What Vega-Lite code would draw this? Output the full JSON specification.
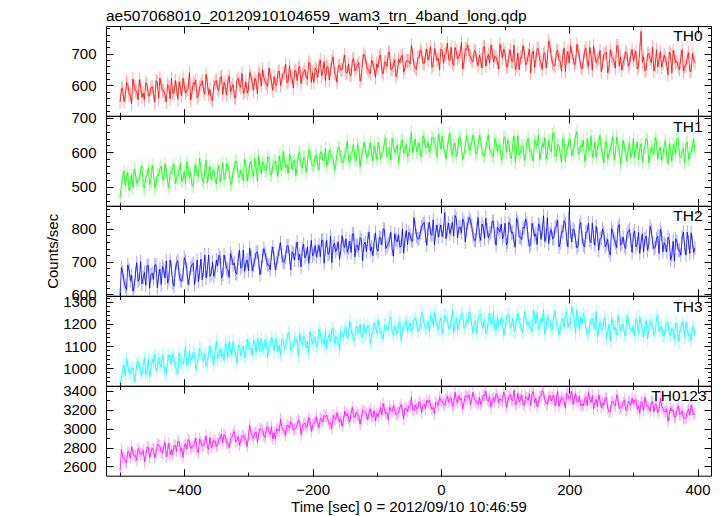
{
"$schema": "https://vega.github.io/schema/vega-lite/v6.json",
"background": "#ffffff",
"padding": {"left": 45, "top": 8, "right": 12, "bottom": 2},
"spacing": 0,
"bounds": "flush",
"title": {"text": "ae507068010_20120910104659_wam3_trn_4band_long.qdp", "anchor": "start", "frame": "group", "fontSize": 15.5, "fontWeight": "normal", "font": "Liberation Sans", "color": "#000000", "baseline": "alphabetic", "offset": -11},
"config": {
  "font": "Liberation Sans",
  "view": {"stroke": "#000000", "strokeWidth": 1},
  "axis": {"domain": false, "grid": false, "minExtent": 0, "labelFont": "Liberation Sans", "labelFontSize": 15, "labelColor": "#000000", "labelFlush": false, "labelOverlap": false, "format": "d", "tickColor": "#000000", "tickWidth": 1, "titleFont": "Liberation Sans", "titleFontSize": 15, "titleFontWeight": "normal", "titleColor": "#000000"}
},
"datasets": {"lc": [
{"t":-500,"a":548,"b":470,"c":598,"d":935,"e":2560},
{"t":-496,"a":590,"b":528,"c":668,"d":990,"e":2700},
{"t":-492,"a":566,"b":505,"c":625,"d":962,"e":2655},
{"t":-488,"a":603,"b":541,"c":690,"d":1015,"e":2760},
{"t":-484,"a":571,"b":512,"c":642,"d":978,"e":2690},
{"t":-480,"a":620,"b":498,"c":610,"d":1002,"e":2745},
{"t":-476,"a":584,"b":535,"c":665,"d":958,"e":2712},
{"t":-472,"a":555,"b":520,"c":640,"d":1030,"e":2790},
{"t":-468,"a":598,"b":548,"c":700,"d":985,"e":2730},
{"t":-464,"a":576,"b":502,"c":652,"d":1012,"e":2770},
{"t":-460,"a":609,"b":530,"c":628,"d":970,"e":2705},
{"t":-456,"a":566,"b":556,"c":688,"d":1040,"e":2800},
{"t":-452,"a":592,"b":515,"c":660,"d":995,"e":2748},
{"t":-448,"a":578,"b":542,"c":646,"d":1022,"e":2780},
{"t":-444,"a":615,"b":509,"c":690,"d":988,"e":2735},
{"t":-440,"a":560,"b":533,"c":655,"d":1048,"e":2825},
{"t":-436,"a":601,"b":561,"c":630,"d":1005,"e":2752},
{"t":-432,"a":583,"b":520,"c":676,"d":1030,"e":2810},
{"t":-428,"a":548,"b":545,"c":702,"d":975,"e":2700},
{"t":-424,"a":596,"b":498,"c":648,"d":1060,"e":2845},
{"t":-420,"a":622,"b":540,"c":680,"d":1018,"e":2775},
{"t":-416,"a":575,"b":566,"c":625,"d":1042,"e":2822},
{"t":-412,"a":590,"b":527,"c":695,"d":996,"e":2760},
{"t":-408,"a":612,"b":550,"c":660,"d":1070,"e":2868},
{"t":-404,"a":568,"b":515,"c":640,"d":1025,"e":2790},
{"t":-400,"a":599,"b":545,"c":712,"d":1050,"e":2815},
{"t":-396,"a":585,"b":572,"c":675,"d":1012,"e":2785},
{"t":-392,"a":640,"b":528,"c":650,"d":1078,"e":2870},
{"t":-388,"a":578,"b":505,"c":690,"d":1040,"e":2805},
{"t":-384,"a":603,"b":552,"c":630,"d":1063,"e":2842},
{"t":-380,"a":562,"b":535,"c":705,"d":1010,"e":2770},
{"t":-376,"a":596,"b":583,"c":668,"d":1090,"e":2890},
{"t":-372,"a":615,"b":520,"c":645,"d":1045,"e":2815},
{"t":-368,"a":574,"b":547,"c":720,"d":1068,"e":2855},
{"t":-364,"a":608,"b":512,"c":676,"d":1030,"e":2800},
{"t":-360,"a":588,"b":560,"c":655,"d":1100,"e":2905},
{"t":-356,"a":552,"b":538,"c":698,"d":1055,"e":2838},
{"t":-352,"a":610,"b":525,"c":670,"d":1075,"e":2868},
{"t":-348,"a":590,"b":548,"c":688,"d":1042,"e":2830},
{"t":-344,"a":625,"b":515,"c":712,"d":1088,"e":2895},
{"t":-340,"a":572,"b":570,"c":660,"d":1065,"e":2850},
{"t":-336,"a":598,"b":532,"c":700,"d":1110,"e":2920},
{"t":-332,"a":615,"b":555,"c":675,"d":1048,"e":2845},
{"t":-328,"a":580,"b":508,"c":725,"d":1082,"e":2888},
{"t":-324,"a":603,"b":545,"c":690,"d":1120,"e":2940},
{"t":-320,"a":560,"b":575,"c":665,"d":1070,"e":2862},
{"t":-316,"a":622,"b":530,"c":708,"d":1095,"e":2915},
{"t":-312,"a":594,"b":548,"c":680,"d":1058,"e":2870},
{"t":-308,"a":575,"b":518,"c":735,"d":1100,"e":2930},
{"t":-304,"a":612,"b":560,"c":695,"d":1076,"e":2890},
{"t":-300,"a":588,"b":540,"c":672,"d":1112,"e":2925},
{"t":-296,"a":630,"b":575,"c":715,"d":1090,"e":2950},
{"t":-292,"a":585,"b":530,"c":690,"d":1125,"e":2895},
{"t":-288,"a":612,"b":558,"c":728,"d":1070,"e":2962},
{"t":-284,"a":640,"b":590,"c":700,"d":1108,"e":2940},
{"t":-280,"a":598,"b":540,"c":682,"d":1135,"e":2990},
{"t":-276,"a":625,"b":566,"c":740,"d":1085,"e":2925},
{"t":-272,"a":605,"b":548,"c":705,"d":1115,"e":3005},
{"t":-268,"a":655,"b":580,"c":690,"d":1095,"e":2968},
{"t":-264,"a":612,"b":535,"c":725,"d":1140,"e":3020},
{"t":-260,"a":628,"b":572,"c":710,"d":1078,"e":2955},
{"t":-256,"a":600,"b":555,"c":695,"d":1118,"e":3000},
{"t":-252,"a":645,"b":590,"c":738,"d":1102,"e":2975},
{"t":-248,"a":618,"b":548,"c":720,"d":1130,"e":3010},
{"t":-244,"a":640,"b":580,"c":700,"d":1090,"e":2972},
{"t":-240,"a":608,"b":565,"c":748,"d":1125,"e":3035},
{"t":-236,"a":662,"b":595,"c":715,"d":1150,"e":3005},
{"t":-232,"a":625,"b":550,"c":730,"d":1098,"e":3050},
{"t":-228,"a":645,"b":578,"c":705,"d":1132,"e":2998},
{"t":-224,"a":615,"b":562,"c":760,"d":1115,"e":3042},
{"t":-220,"a":660,"b":600,"c":722,"d":1160,"e":3070},
{"t":-216,"a":632,"b":555,"c":738,"d":1105,"e":3015},
{"t":-212,"a":650,"b":585,"c":712,"d":1138,"e":3058},
{"t":-208,"a":620,"b":570,"c":745,"d":1120,"e":3030},
{"t":-204,"a":670,"b":602,"c":728,"d":1165,"e":3085},
{"t":-200,"a":640,"b":560,"c":718,"d":1112,"e":3040},
{"t":-196,"a":655,"b":590,"c":750,"d":1140,"e":3075},
{"t":-192,"a":625,"b":565,"c":732,"d":1105,"e":3050},
{"t":-188,"a":680,"b":600,"c":715,"d":1158,"e":3110},
{"t":-184,"a":642,"b":578,"c":765,"d":1128,"e":3068},
{"t":-180,"a":615,"b":612,"c":740,"d":1170,"e":3125},
{"t":-176,"a":660,"b":570,"c":722,"d":1135,"e":3090},
{"t":-172,"a":648,"b":595,"c":778,"d":1120,"e":3060},
{"t":-168,"a":690,"b":582,"c":745,"d":1180,"e":3140},
{"t":-164,"a":635,"b":560,"c":730,"d":1145,"e":3095},
{"t":-160,"a":662,"b":615,"c":760,"d":1125,"e":3118},
{"t":-156,"a":650,"b":588,"c":735,"d":1165,"e":3105},
{"t":-152,"a":675,"b":572,"c":752,"d":1140,"e":3080},
{"t":-148,"a":640,"b":605,"c":770,"d":1185,"e":3135},
{"t":-144,"a":668,"b":580,"c":742,"d":1148,"e":3110},
{"t":-140,"a":632,"b":598,"c":728,"d":1175,"e":3160},
{"t":-136,"a":685,"b":622,"c":785,"d":1130,"e":3125},
{"t":-132,"a":655,"b":575,"c":750,"d":1190,"e":3170},
{"t":-128,"a":672,"b":610,"c":735,"d":1158,"e":3140},
{"t":-124,"a":628,"b":590,"c":768,"d":1142,"e":3115},
{"t":-120,"a":698,"b":630,"c":752,"d":1200,"e":3185},
{"t":-116,"a":660,"b":585,"c":730,"d":1165,"e":3150},
{"t":-112,"a":645,"b":608,"c":790,"d":1178,"e":3172},
{"t":-108,"a":680,"b":595,"c":745,"d":1145,"e":3130},
{"t":-104,"a":652,"b":618,"c":762,"d":1205,"e":3190},
{"t":-100,"a":668,"b":580,"c":740,"d":1160,"e":3158},
{"t":-96,"a":690,"b":612,"c":775,"d":1185,"e":3175},
{"t":-92,"a":645,"b":598,"c":752,"d":1150,"e":3145},
{"t":-88,"a":672,"b":632,"c":798,"d":1195,"e":3210},
{"t":-84,"a":660,"b":588,"c":748,"d":1170,"e":3168},
{"t":-80,"a":705,"b":615,"c":765,"d":1220,"e":3230},
{"t":-76,"a":652,"b":640,"c":738,"d":1162,"e":3180},
{"t":-72,"a":680,"b":600,"c":785,"d":1190,"e":3205},
{"t":-68,"a":640,"b":622,"c":760,"d":1155,"e":3160},
{"t":-64,"a":672,"b":595,"c":745,"d":1210,"e":3225},
{"t":-60,"a":695,"b":635,"c":800,"d":1178,"e":3195},
{"t":-56,"a":655,"b":608,"c":768,"d":1198,"e":3215},
{"t":-52,"a":678,"b":588,"c":752,"d":1165,"e":3180},
{"t":-48,"a":668,"b":625,"c":780,"d":1205,"e":3230},
{"t":-44,"a":700,"b":600,"c":762,"d":1180,"e":3205},
{"t":-40,"a":655,"b":638,"c":805,"d":1225,"e":3250},
{"t":-36,"a":688,"b":612,"c":770,"d":1168,"e":3215},
{"t":-32,"a":712,"b":595,"c":790,"d":1200,"e":3262},
{"t":-28,"a":670,"b":648,"c":815,"d":1235,"e":3240},
{"t":-24,"a":695,"b":615,"c":778,"d":1185,"e":3210},
{"t":-20,"a":680,"b":630,"c":800,"d":1210,"e":3275},
{"t":-16,"a":722,"b":605,"c":785,"d":1240,"e":3248},
{"t":-12,"a":665,"b":640,"c":828,"d":1195,"e":3225},
{"t":-8,"a":698,"b":618,"c":792,"d":1218,"e":3280},
{"t":-4,"a":685,"b":652,"c":775,"d":1175,"e":3242},
{"t":0,"a":715,"b":610,"c":812,"d":1228,"e":3295},
{"t":4,"a":670,"b":615,"c":795,"d":1190,"e":3262},
{"t":8,"a":700,"b":580,"c":770,"d":1235,"e":3310},
{"t":12,"a":685,"b":638,"c":818,"d":1178,"e":3280},
{"t":16,"a":720,"b":605,"c":800,"d":1210,"e":3325},
{"t":20,"a":663,"b":620,"c":778,"d":1160,"e":3255},
{"t":24,"a":707,"b":588,"c":832,"d":1228,"e":3300},
{"t":28,"a":690,"b":642,"c":805,"d":1195,"e":3345},
{"t":32,"a":735,"b":610,"c":788,"d":1245,"e":3318},
{"t":36,"a":675,"b":595,"c":820,"d":1180,"e":3275},
{"t":40,"a":713,"b":648,"c":798,"d":1218,"e":3340},
{"t":44,"a":695,"b":605,"c":835,"d":1255,"e":3360},
{"t":48,"a":680,"b":630,"c":812,"d":1200,"e":3305},
{"t":52,"a":710,"b":632,"c":765,"d":1205,"e":3305},
{"t":56,"a":678,"b":595,"c":800,"d":1155,"e":3275},
{"t":60,"a":695,"b":650,"c":780,"d":1238,"e":3330},
{"t":64,"a":655,"b":605,"c":815,"d":1185,"e":3290},
{"t":68,"a":722,"b":588,"c":770,"d":1220,"e":3345},
{"t":72,"a":685,"b":635,"c":797,"d":1170,"e":3300},
{"t":76,"a":670,"b":610,"c":785,"d":1250,"e":3335},
{"t":80,"a":708,"b":592,"c":823,"d":1200,"e":3310},
{"t":84,"a":692,"b":640,"c":775,"d":1175,"e":3280},
{"t":88,"a":675,"b":605,"c":805,"d":1230,"e":3350},
{"t":92,"a":730,"b":622,"c":790,"d":1195,"e":3315},
{"t":96,"a":688,"b":585,"c":770,"d":1218,"e":3295},
{"t":100,"a":702,"b":645,"c":817,"d":1180,"e":3340},
{"t":104,"a":660,"b":635,"c":760,"d":1240,"e":3280},
{"t":108,"a":712,"b":588,"c":812,"d":1180,"e":3360},
{"t":112,"a":675,"b":622,"c":790,"d":1225,"e":3295},
{"t":116,"a":650,"b":570,"c":745,"d":1170,"e":3250},
{"t":120,"a":702,"b":648,"c":820,"d":1250,"e":3375},
{"t":124,"a":688,"b":600,"c":775,"d":1195,"e":3310},
{"t":128,"a":725,"b":618,"c":805,"d":1160,"e":3262},
{"t":132,"a":665,"b":585,"c":830,"d":1232,"e":3340},
{"t":136,"a":695,"b":640,"c":770,"d":1210,"e":3300},
{"t":140,"a":640,"b":605,"c":752,"d":1185,"e":3245},
{"t":144,"a":708,"b":575,"c":800,"d":1262,"e":3395},
{"t":148,"a":680,"b":628,"c":785,"d":1200,"e":3320},
{"t":152,"a":715,"b":650,"c":815,"d":1175,"e":3280},
{"t":156,"a":672,"b":598,"c":768,"d":1228,"e":3345},
{"t":160,"a":698,"b":615,"c":840,"d":1265,"e":3380},
{"t":164,"a":655,"b":580,"c":780,"d":1190,"e":3270},
{"t":168,"a":740,"b":635,"c":755,"d":1215,"e":3325},
{"t":172,"a":690,"b":602,"c":798,"d":1170,"e":3290},
{"t":176,"a":662,"b":658,"c":772,"d":1240,"e":3355},
{"t":180,"a":705,"b":590,"c":810,"d":1198,"e":3305},
{"t":184,"a":680,"b":620,"c":745,"d":1150,"e":3235},
{"t":188,"a":645,"b":570,"c":792,"d":1222,"e":3330},
{"t":192,"a":718,"b":632,"c":825,"d":1185,"e":3295},
{"t":196,"a":688,"b":605,"c":770,"d":1255,"e":3370},
{"t":200,"a":670,"b":640,"c":850,"d":1205,"e":3310},
{"t":204,"a":702,"b":590,"c":760,"d":1280,"e":3395},
{"t":208,"a":665,"b":625,"c":795,"d":1215,"e":3320},
{"t":212,"a":730,"b":660,"c":742,"d":1265,"e":3285},
{"t":216,"a":690,"b":598,"c":810,"d":1170,"e":3340},
{"t":220,"a":652,"b":615,"c":775,"d":1200,"e":3260},
{"t":224,"a":708,"b":575,"c":745,"d":1235,"e":3305},
{"t":228,"a":675,"b":640,"c":790,"d":1150,"e":3245},
{"t":232,"a":720,"b":605,"c":765,"d":1195,"e":3312},
{"t":236,"a":648,"b":585,"c":818,"d":1225,"e":3350},
{"t":240,"a":695,"b":630,"c":750,"d":1178,"e":3275},
{"t":244,"a":682,"b":612,"c":782,"d":1140,"e":3230},
{"t":248,"a":710,"b":650,"c":770,"d":1210,"e":3300},
{"t":252,"a":668,"b":595,"c":800,"d":1175,"e":3270},
{"t":256,"a":700,"b":628,"c":745,"d":1230,"e":3320},
{"t":260,"a":640,"b":580,"c":768,"d":1160,"e":3215},
{"t":264,"a":712,"b":610,"c":720,"d":1122,"e":3180},
{"t":268,"a":685,"b":645,"c":790,"d":1205,"e":3285},
{"t":272,"a":655,"b":595,"c":758,"d":1185,"e":3240},
{"t":276,"a":725,"b":620,"c":805,"d":1240,"e":3310},
{"t":280,"a":690,"b":565,"c":750,"d":1168,"e":3225},
{"t":284,"a":670,"b":635,"c":775,"d":1200,"e":3270},
{"t":288,"a":705,"b":600,"c":740,"d":1145,"e":3200},
{"t":292,"a":660,"b":615,"c":792,"d":1222,"e":3290},
{"t":296,"a":695,"b":585,"c":765,"d":1180,"e":3245},
{"t":300,"a":678,"b":640,"c":782,"d":1195,"e":3262},
{"t":304,"a":708,"b":610,"c":745,"d":1225,"e":3305},
{"t":308,"a":660,"b":580,"c":790,"d":1160,"e":3240},
{"t":312,"a":770,"b":625,"c":760,"d":1200,"e":3285},
{"t":316,"a":690,"b":598,"c":730,"d":1140,"e":3190},
{"t":320,"a":650,"b":640,"c":778,"d":1215,"e":3260},
{"t":324,"a":700,"b":570,"c":752,"d":1170,"e":3225},
{"t":328,"a":672,"b":615,"c":795,"d":1195,"e":3280},
{"t":332,"a":645,"b":595,"c":740,"d":1150,"e":3175},
{"t":336,"a":712,"b":632,"c":770,"d":1228,"e":3250},
{"t":340,"a":680,"b":605,"c":725,"d":1165,"e":3200},
{"t":344,"a":658,"b":578,"c":785,"d":1190,"e":3235},
{"t":348,"a":695,"b":620,"c":758,"d":1145,"e":3180},
{"t":352,"a":668,"b":590,"c":730,"d":1200,"e":3210},
{"t":356,"a":705,"b":625,"c":765,"d":1150,"e":3145},
{"t":360,"a":640,"b":575,"c":720,"d":1180,"e":3185},
{"t":364,"a":690,"b":612,"c":702,"d":1130,"e":3120},
{"t":368,"a":675,"b":640,"c":760,"d":1195,"e":3200},
{"t":372,"a":650,"b":588,"c":735,"d":1160,"e":3150},
{"t":376,"a":712,"b":605,"c":775,"d":1210,"e":3190},
{"t":380,"a":660,"b":570,"c":745,"d":1140,"e":3110},
{"t":384,"a":688,"b":630,"c":790,"d":1175,"e":3175},
{"t":388,"a":645,"b":598,"c":725,"d":1155,"e":3140},
{"t":392,"a":700,"b":615,"c":760,"d":1190,"e":3195},
{"t":396,"a":672,"b":602,"c":742,"d":1150,"e":3160},
{"t":-498,"a":590,"b":502,"c":682,"d":952,"e":2780},
{"t":-494,"a":550,"b":547,"c":642,"d":1014,"e":2685},
{"t":-490,"a":609,"b":527,"c":614,"d":1040,"e":2640},
{"t":-486,"a":572,"b":489,"c":674,"d":977,"e":2745},
{"t":-482,"a":543,"b":536,"c":658,"d":997,"e":2810},
{"t":-478,"a":596,"b":552,"c":624,"d":940,"e":2710},
{"t":-474,"a":582,"b":510,"c":697,"d":1022,"e":2665},
{"t":-470,"a":618,"b":520,"c":647,"d":1004,"e":2760},
{"t":-466,"a":563,"b":560,"c":632,"d":967,"e":2735},
{"t":-462,"a":556,"b":497,"c":667,"d":1047,"e":2650},
{"t":-458,"a":604,"b":532,"c":688,"d":984,"e":2805},
{"t":-454,"a":569,"b":507,"c":619,"d":957,"e":2695},
{"t":-450,"a":596,"b":563,"c":665,"d":1040,"e":2790},
{"t":-446,"a":547,"b":497,"c":690,"d":1062,"e":2690},
{"t":-442,"a":610,"b":537,"c":620,"d":1002,"e":2835},
{"t":-438,"a":623,"b":553,"c":677,"d":1017,"e":2815},
{"t":-434,"a":585,"b":527,"c":685,"d":1057,"e":2740},
{"t":-430,"a":570,"b":568,"c":650,"d":974,"e":2855},
{"t":-426,"a":603,"b":515,"c":635,"d":1032,"e":2770},
{"t":-422,"a":558,"b":541,"c":705,"d":1047,"e":2725},
{"t":-418,"a":576,"b":555,"c":635,"d":1062,"e":2725},
{"t":-414,"a":616,"b":510,"c":675,"d":1000,"e":2820},
{"t":-410,"a":557,"b":530,"c":703,"d":974,"e":2865},
{"t":-406,"a":594,"b":568,"c":643,"d":1037,"e":2760},
{"t":-402,"a":623,"b":521,"c":659,"d":1017,"e":2695},
{"t":-398,"a":576,"b":510,"c":703,"d":1100,"e":2840},
{"t":-394,"a":590,"b":552,"c":630,"d":1018,"e":2885},
{"t":-390,"a":554,"b":542,"c":680,"d":1036,"e":2790},
{"t":-386,"a":609,"b":502,"c":695,"d":1073,"e":2815},
{"t":-382,"a":616,"b":565,"c":660,"d":993,"e":2900},
{"t":-378,"a":568,"b":530,"c":639,"d":1056,"e":2745},
{"t":-374,"a":603,"b":555,"c":708,"d":1083,"e":2855},
{"t":-370,"a":586,"b":512,"c":675,"d":1030,"e":2825},
{"t":-366,"a":635,"b":578,"c":650,"d":1008,"e":2925},
{"t":-362,"a":572,"b":538,"c":720,"d":1068,"e":2780},
{"t":-358,"a":559,"b":522,"c":663,"d":1053,"e":2800},
{"t":-354,"a":597,"b":548,"c":655,"d":1013,"e":2875},
{"t":-350,"a":616,"b":509,"c":705,"d":1123,"e":2810},
{"t":-346,"a":583,"b":562,"c":720,"d":1065,"e":2895},
{"t":-342,"a":628,"b":536,"c":650,"d":1050,"e":2940},
{"t":-338,"a":610,"b":522,"c":720,"d":1035,"e":2940},
{"t":-334,"a":570,"b":567,"c":680,"d":1097,"e":2845},
{"t":-330,"a":629,"b":547,"c":652,"d":1123,"e":2800},
{"t":-326,"a":592,"b":509,"c":712,"d":1060,"e":2905},
{"t":-322,"a":563,"b":556,"c":696,"d":1080,"e":2970},
{"t":-318,"a":616,"b":572,"c":662,"d":1023,"e":2870},
{"t":-314,"a":602,"b":530,"c":735,"d":1105,"e":2825},
{"t":-310,"a":638,"b":540,"c":685,"d":1087,"e":2920},
{"t":-306,"a":583,"b":580,"c":670,"d":1050,"e":2895},
{"t":-302,"a":576,"b":517,"c":705,"d":1130,"e":2810},
{"t":-298,"a":641,"b":565,"c":741,"d":1087,"e":3035},
{"t":-294,"a":606,"b":540,"c":672,"d":1060,"e":2925},
{"t":-290,"a":623,"b":583,"c":705,"d":1113,"e":2955},
{"t":-286,"a":574,"b":517,"c":730,"d":1135,"e":2855},
{"t":-282,"a":637,"b":557,"c":660,"d":1075,"e":3000},
{"t":-278,"a":650,"b":573,"c":717,"d":1090,"e":2980},
{"t":-274,"a":612,"b":547,"c":725,"d":1130,"e":2905},
{"t":-270,"a":597,"b":588,"c":690,"d":1047,"e":3020},
{"t":-266,"a":630,"b":535,"c":675,"d":1105,"e":2935},
{"t":-262,"a":585,"b":561,"c":745,"d":1120,"e":2890},
{"t":-258,"a":603,"b":575,"c":675,"d":1135,"e":2890},
{"t":-254,"a":643,"b":530,"c":715,"d":1073,"e":2985},
{"t":-250,"a":601,"b":565,"c":758,"d":1062,"e":3100},
{"t":-246,"a":638,"b":603,"c":698,"d":1125,"e":2995},
{"t":-242,"a":667,"b":556,"c":714,"d":1105,"e":2930},
{"t":-238,"a":614,"b":540,"c":748,"d":1162,"e":3030},
{"t":-234,"a":628,"b":582,"c":675,"d":1080,"e":3075},
{"t":-230,"a":592,"b":572,"c":725,"d":1098,"e":2980},
{"t":-226,"a":647,"b":532,"c":740,"d":1135,"e":3005},
{"t":-222,"a":654,"b":595,"c":705,"d":1055,"e":3090},
{"t":-218,"a":606,"b":560,"c":684,"d":1118,"e":2935},
{"t":-214,"a":641,"b":585,"c":753,"d":1145,"e":3045},
{"t":-210,"a":624,"b":542,"c":720,"d":1092,"e":3015},
{"t":-206,"a":673,"b":608,"c":695,"d":1070,"e":3115},
{"t":-202,"a":610,"b":568,"c":765,"d":1130,"e":2970},
{"t":-198,"a":610,"b":564,"c":723,"d":1135,"e":3050},
{"t":-194,"a":648,"b":590,"c":715,"d":1095,"e":3125},
{"t":-190,"a":663,"b":549,"c":750,"d":1178,"e":3010},
{"t":-186,"a":630,"b":602,"c":765,"d":1120,"e":3095},
{"t":-182,"a":675,"b":576,"c":695,"d":1105,"e":3140},
{"t":-178,"a":657,"b":562,"c":765,"d":1090,"e":3140},
{"t":-174,"a":617,"b":607,"c":725,"d":1152,"e":3045},
{"t":-170,"a":676,"b":587,"c":697,"d":1178,"e":3000},
{"t":-166,"a":639,"b":549,"c":757,"d":1115,"e":3105},
{"t":-162,"a":610,"b":596,"c":741,"d":1135,"e":3170},
{"t":-158,"a":663,"b":612,"c":707,"d":1078,"e":3070},
{"t":-154,"a":649,"b":570,"c":780,"d":1160,"e":3025},
{"t":-150,"a":695,"b":593,"c":743,"d":1172,"e":3180},
{"t":-146,"a":640,"b":633,"c":728,"d":1135,"e":3155},
{"t":-142,"a":633,"b":570,"c":763,"d":1215,"e":3070},
{"t":-138,"a":681,"b":605,"c":784,"d":1152,"e":3225},
{"t":-134,"a":646,"b":580,"c":715,"d":1125,"e":3115},
{"t":-130,"a":663,"b":623,"c":748,"d":1178,"e":3145},
{"t":-126,"a":614,"b":557,"c":773,"d":1200,"e":3045},
{"t":-122,"a":677,"b":597,"c":703,"d":1140,"e":3190},
{"t":-118,"a":690,"b":613,"c":760,"d":1155,"e":3170},
{"t":-114,"a":652,"b":587,"c":768,"d":1195,"e":3095},
{"t":-110,"a":637,"b":628,"c":733,"d":1112,"e":3210},
{"t":-106,"a":670,"b":575,"c":718,"d":1170,"e":3125},
{"t":-102,"a":625,"b":601,"c":788,"d":1185,"e":3080},
{"t":-98,"a":656,"b":628,"c":732,"d":1220,"e":3125},
{"t":-94,"a":696,"b":583,"c":772,"d":1158,"e":3220},
{"t":-90,"a":637,"b":603,"c":800,"d":1132,"e":3265},
{"t":-86,"a":674,"b":641,"c":740,"d":1195,"e":3160},
{"t":-82,"a":703,"b":594,"c":756,"d":1175,"e":3095},
{"t":-78,"a":650,"b":578,"c":790,"d":1232,"e":3195},
{"t":-74,"a":664,"b":620,"c":717,"d":1150,"e":3240},
{"t":-70,"a":628,"b":610,"c":767,"d":1168,"e":3145},
{"t":-66,"a":683,"b":570,"c":782,"d":1205,"e":3170},
{"t":-62,"a":690,"b":633,"c":747,"d":1125,"e":3255},
{"t":-58,"a":642,"b":598,"c":726,"d":1188,"e":3100},
{"t":-54,"a":677,"b":623,"c":795,"d":1215,"e":3210},
{"t":-50,"a":677,"b":592,"c":790,"d":1187,"e":3235},
{"t":-46,"a":726,"b":658,"c":765,"d":1165,"e":3335},
{"t":-42,"a":663,"b":618,"c":835,"d":1225,"e":3190},
{"t":-38,"a":650,"b":602,"c":778,"d":1210,"e":3210},
{"t":-34,"a":688,"b":628,"c":770,"d":1170,"e":3285},
{"t":-30,"a":703,"b":587,"c":805,"d":1253,"e":3170},
{"t":-26,"a":670,"b":640,"c":820,"d":1195,"e":3255},
{"t":-22,"a":715,"b":614,"c":750,"d":1180,"e":3300},
{"t":-18,"a":697,"b":600,"c":820,"d":1165,"e":3300},
{"t":-14,"a":657,"b":645,"c":780,"d":1227,"e":3205},
{"t":-10,"a":716,"b":625,"c":752,"d":1253,"e":3160},
{"t":-6,"a":679,"b":587,"c":812,"d":1190,"e":3265},
{"t":-2,"a":650,"b":634,"c":796,"d":1210,"e":3330},
{"t":2,"a":711,"b":647,"c":777,"d":1156,"e":3290},
{"t":6,"a":697,"b":605,"c":850,"d":1238,"e":3245},
{"t":10,"a":733,"b":615,"c":800,"d":1220,"e":3340},
{"t":14,"a":678,"b":655,"c":785,"d":1183,"e":3315},
{"t":18,"a":671,"b":592,"c":820,"d":1263,"e":3230},
{"t":22,"a":719,"b":627,"c":841,"d":1200,"e":3385},
{"t":26,"a":684,"b":602,"c":772,"d":1173,"e":3275},
{"t":30,"a":701,"b":645,"c":805,"d":1226,"e":3305},
{"t":34,"a":652,"b":579,"c":830,"d":1248,"e":3205},
{"t":38,"a":715,"b":619,"c":760,"d":1188,"e":3350},
{"t":42,"a":728,"b":635,"c":817,"d":1203,"e":3330},
{"t":46,"a":690,"b":609,"c":825,"d":1243,"e":3255},
{"t":50,"a":674,"b":650,"c":780,"d":1157,"e":3385},
{"t":54,"a":707,"b":597,"c":765,"d":1215,"e":3300},
{"t":58,"a":662,"b":623,"c":835,"d":1230,"e":3255},
{"t":62,"a":680,"b":637,"c":765,"d":1245,"e":3255},
{"t":66,"a":720,"b":592,"c":805,"d":1183,"e":3350},
{"t":70,"a":661,"b":612,"c":833,"d":1157,"e":3395},
{"t":74,"a":698,"b":650,"c":773,"d":1220,"e":3290},
{"t":78,"a":727,"b":603,"c":789,"d":1200,"e":3225},
{"t":82,"a":674,"b":587,"c":823,"d":1257,"e":3325},
{"t":86,"a":688,"b":629,"c":750,"d":1175,"e":3370},
{"t":90,"a":652,"b":619,"c":800,"d":1193,"e":3275},
{"t":94,"a":707,"b":579,"c":815,"d":1230,"e":3300},
{"t":98,"a":714,"b":642,"c":780,"d":1150,"e":3385},
{"t":102,"a":659,"b":600,"c":751,"d":1215,"e":3226},
{"t":106,"a":694,"b":625,"c":820,"d":1242,"e":3336},
{"t":110,"a":677,"b":582,"c":787,"d":1189,"e":3306},
{"t":114,"a":726,"b":648,"c":762,"d":1167,"e":3406},
{"t":118,"a":663,"b":608,"c":832,"d":1227,"e":3261},
{"t":122,"a":650,"b":592,"c":775,"d":1212,"e":3281},
{"t":126,"a":688,"b":618,"c":767,"d":1172,"e":3356},
{"t":130,"a":703,"b":577,"c":802,"d":1255,"e":3241},
{"t":134,"a":670,"b":630,"c":817,"d":1197,"e":3326},
{"t":138,"a":715,"b":604,"c":747,"d":1182,"e":3371},
{"t":142,"a":697,"b":590,"c":817,"d":1167,"e":3371},
{"t":146,"a":657,"b":635,"c":777,"d":1229,"e":3276},
{"t":150,"a":716,"b":617,"c":752,"d":1253,"e":3230},
{"t":154,"a":679,"b":579,"c":812,"d":1190,"e":3335},
{"t":158,"a":650,"b":626,"c":796,"d":1210,"e":3400},
{"t":162,"a":703,"b":642,"c":762,"d":1153,"e":3300},
{"t":166,"a":689,"b":600,"c":835,"d":1235,"e":3255},
{"t":170,"a":725,"b":610,"c":785,"d":1217,"e":3350},
{"t":174,"a":670,"b":650,"c":770,"d":1180,"e":3325},
{"t":178,"a":663,"b":587,"c":805,"d":1260,"e":3240},
{"t":182,"a":711,"b":622,"c":826,"d":1197,"e":3395},
{"t":186,"a":676,"b":597,"c":757,"d":1170,"e":3285},
{"t":190,"a":693,"b":640,"c":790,"d":1223,"e":3315},
{"t":194,"a":644,"b":574,"c":815,"d":1245,"e":3215},
{"t":198,"a":707,"b":614,"c":745,"d":1185,"e":3360},
{"t":202,"a":725,"b":633,"c":792,"d":1200,"e":3330},
{"t":206,"a":687,"b":607,"c":800,"d":1240,"e":3255},
{"t":210,"a":672,"b":648,"c":765,"d":1157,"e":3370},
{"t":214,"a":705,"b":595,"c":750,"d":1215,"e":3285},
{"t":218,"a":660,"b":621,"c":820,"d":1230,"e":3240},
{"t":222,"a":678,"b":635,"c":750,"d":1245,"e":3240},
{"t":226,"a":718,"b":590,"c":790,"d":1183,"e":3335},
{"t":230,"a":659,"b":610,"c":818,"d":1157,"e":3380},
{"t":234,"a":696,"b":648,"c":758,"d":1220,"e":3275},
{"t":238,"a":725,"b":601,"c":774,"d":1200,"e":3210},
{"t":242,"a":672,"b":585,"c":808,"d":1257,"e":3310},
{"t":246,"a":686,"b":627,"c":735,"d":1175,"e":3355},
{"t":250,"a":643,"b":609,"c":773,"d":1178,"e":3220},
{"t":254,"a":698,"b":569,"c":788,"d":1215,"e":3245},
{"t":258,"a":705,"b":632,"c":753,"d":1135,"e":3330},
{"t":262,"a":657,"b":597,"c":732,"d":1198,"e":3175},
{"t":266,"a":692,"b":622,"c":801,"d":1225,"e":3285},
{"t":270,"a":675,"b":579,"c":768,"d":1172,"e":3255},
{"t":274,"a":724,"b":645,"c":743,"d":1150,"e":3355},
{"t":278,"a":661,"b":605,"c":813,"d":1210,"e":3210},
{"t":282,"a":648,"b":589,"c":756,"d":1195,"e":3230},
{"t":286,"a":686,"b":615,"c":748,"d":1155,"e":3305},
{"t":290,"a":701,"b":574,"c":783,"d":1238,"e":3190},
{"t":294,"a":668,"b":627,"c":798,"d":1180,"e":3275},
{"t":298,"a":713,"b":601,"c":728,"d":1165,"e":3320},
{"t":302,"a":692,"b":585,"c":793,"d":1145,"e":3300},
{"t":306,"a":652,"b":630,"c":753,"d":1207,"e":3205},
{"t":310,"a":711,"b":610,"c":725,"d":1233,"e":3160},
{"t":314,"a":674,"b":572,"c":785,"d":1170,"e":3265},
{"t":318,"a":645,"b":619,"c":769,"d":1190,"e":3330},
{"t":322,"a":698,"b":635,"c":735,"d":1133,"e":3230},
{"t":326,"a":684,"b":593,"c":808,"d":1215,"e":3185},
{"t":330,"a":720,"b":603,"c":758,"d":1197,"e":3280},
{"t":334,"a":665,"b":643,"c":743,"d":1160,"e":3255},
{"t":338,"a":658,"b":580,"c":778,"d":1240,"e":3170},
{"t":342,"a":706,"b":615,"c":799,"d":1177,"e":3325},
{"t":346,"a":671,"b":590,"c":730,"d":1150,"e":3215},
{"t":350,"a":683,"b":633,"c":750,"d":1188,"e":3175},
{"t":354,"a":634,"b":567,"c":775,"d":1210,"e":3075},
{"t":358,"a":697,"b":607,"c":705,"d":1150,"e":3220},
{"t":362,"a":710,"b":623,"c":762,"d":1165,"e":3200},
{"t":366,"a":672,"b":597,"c":770,"d":1205,"e":3125},
{"t":370,"a":657,"b":638,"c":735,"d":1122,"e":3240},
{"t":374,"a":690,"b":585,"c":720,"d":1180,"e":3155},
{"t":378,"a":645,"b":611,"c":790,"d":1195,"e":3110},
{"t":382,"a":663,"b":625,"c":720,"d":1210,"e":3110},
{"t":386,"a":703,"b":580,"c":760,"d":1148,"e":3205},
{"t":390,"a":644,"b":600,"c":788,"d":1122,"e":3250},
{"t":394,"a":681,"b":638,"c":728,"d":1185,"e":3145}
]},
"data": {"name": "lc"},
"vconcat": [
{
  "width": 605, "height": 89.7,
  "resolve": {"axis": {"x": "independent", "y": "independent"}},
  "layer": [
    {"mark": {"type": "tick", "orient": "vertical", "size": 14, "thickness": 1, "color": "#ff0000", "opacity": 0.35, "clip": true},
     "encoding": {
       "x": {"field": "t", "type": "quantitative", "scale": {"domain": [-522, 421], "nice": false, "zero": false}, "axis": {"orient": "bottom", "values": [-400, -200, 0, 200, 400], "tickSize": -7, "labels": false, "title": null}},
       "y": {"field": "a", "type": "quantitative", "scale": {"domain": [505, 787], "nice": false, "zero": false}, "axis": {"orient": "left", "values": [600, 700], "tickSize": -7, "labelPadding": 17, "title": null}}}},
    {"mark": {"type": "line", "color": "#ff0000", "strokeWidth": 0.8, "clip": true},
     "encoding": {
       "x": {"field": "t", "type": "quantitative", "scale": {"domain": [-522, 421], "nice": false, "zero": false}, "axis": {"orient": "bottom", "values": [-500, -300, -100, 100, 300], "tickSize": -3.5, "labels": false, "title": null}},
       "y": {"field": "a", "type": "quantitative", "scale": {"domain": [505, 787], "nice": false, "zero": false}, "axis": {"orient": "left", "values": [520, 540, 560, 580, 620, 640, 660, 680, 720, 740, 760, 780], "tickSize": -3.5, "labels": false, "title": null}}}},
    {"mark": {"type": "line", "strokeOpacity": 0, "clip": true},
     "encoding": {
       "x": {"field": "t", "type": "quantitative", "scale": {"domain": [-522, 421], "nice": false, "zero": false}, "axis": {"orient": "top", "values": [-400, -200, 0, 200, 400], "tickSize": -7, "labels": false, "title": null}},
       "y": {"field": "a", "type": "quantitative", "scale": {"domain": [505, 787], "nice": false, "zero": false}, "axis": {"orient": "right", "values": [600, 700], "tickSize": -7, "labels": false, "title": null}}}},
    {"mark": {"type": "line", "strokeOpacity": 0, "clip": true},
     "encoding": {
       "x": {"field": "t", "type": "quantitative", "scale": {"domain": [-522, 421], "nice": false, "zero": false}, "axis": {"orient": "top", "values": [-500, -300, -100, 100, 300], "tickSize": -3.5, "labels": false, "title": null}},
       "y": {"field": "a", "type": "quantitative", "scale": {"domain": [505, 787], "nice": false, "zero": false}, "axis": {"orient": "right", "values": [520, 540, 560, 580, 620, 640, 660, 680, 720, 740, 760, 780], "tickSize": -3.5, "labels": false, "title": null}}}},
    {"data": {"values": [{}]},
     "mark": {"type": "text", "align": "right", "baseline": "middle", "fontSize": 15.5, "font": "Liberation Sans", "color": "#000000"},
     "encoding": {
       "x": {"datum": 408, "type": "quantitative", "scale": {"domain": [-522, 421], "nice": false, "zero": false}, "axis": null},
       "y": {"datum": 755, "type": "quantitative", "scale": {"domain": [505, 787], "nice": false, "zero": false}, "axis": null},
       "text": {"value": "TH0"}}}
  ]
},
{
  "width": 605, "height": 89.7,
  "resolve": {"axis": {"x": "independent", "y": "independent"}},
  "layer": [
    {"mark": {"type": "tick", "orient": "vertical", "size": 14, "thickness": 1, "color": "#00ff00", "opacity": 0.35, "clip": true},
     "encoding": {
       "x": {"field": "t", "type": "quantitative", "scale": {"domain": [-522, 421], "nice": false, "zero": false}, "axis": {"orient": "bottom", "values": [-400, -200, 0, 200, 400], "tickSize": -7, "labels": false, "title": null}},
       "y": {"field": "b", "type": "quantitative", "scale": {"domain": [446, 705], "nice": false, "zero": false}, "axis": {"orient": "left", "values": [500, 600, 700], "tickSize": -7, "labelPadding": 17, "title": null}}}},
    {"mark": {"type": "line", "color": "#00ff00", "strokeWidth": 0.8, "clip": true},
     "encoding": {
       "x": {"field": "t", "type": "quantitative", "scale": {"domain": [-522, 421], "nice": false, "zero": false}, "axis": {"orient": "bottom", "values": [-500, -300, -100, 100, 300], "tickSize": -3.5, "labels": false, "title": null}},
       "y": {"field": "b", "type": "quantitative", "scale": {"domain": [446, 705], "nice": false, "zero": false}, "axis": {"orient": "left", "values": [460, 480, 520, 540, 560, 580, 620, 640, 660, 680], "tickSize": -3.5, "labels": false, "title": null}}}},
    {"mark": {"type": "line", "strokeOpacity": 0, "clip": true},
     "encoding": {
       "x": {"field": "t", "type": "quantitative", "scale": {"domain": [-522, 421], "nice": false, "zero": false}, "axis": {"orient": "top", "values": [-400, -200, 0, 200, 400], "tickSize": -7, "labels": false, "title": null}},
       "y": {"field": "b", "type": "quantitative", "scale": {"domain": [446, 705], "nice": false, "zero": false}, "axis": {"orient": "right", "values": [500, 600, 700], "tickSize": -7, "labels": false, "title": null}}}},
    {"mark": {"type": "line", "strokeOpacity": 0, "clip": true},
     "encoding": {
       "x": {"field": "t", "type": "quantitative", "scale": {"domain": [-522, 421], "nice": false, "zero": false}, "axis": {"orient": "top", "values": [-500, -300, -100, 100, 300], "tickSize": -3.5, "labels": false, "title": null}},
       "y": {"field": "b", "type": "quantitative", "scale": {"domain": [446, 705], "nice": false, "zero": false}, "axis": {"orient": "right", "values": [460, 480, 520, 540, 560, 580, 620, 640, 660, 680], "tickSize": -3.5, "labels": false, "title": null}}}},
    {"data": {"values": [{}]},
     "mark": {"type": "text", "align": "right", "baseline": "middle", "fontSize": 15.5, "font": "Liberation Sans", "color": "#000000"},
     "encoding": {
       "x": {"datum": 408, "type": "quantitative", "scale": {"domain": [-522, 421], "nice": false, "zero": false}, "axis": null},
       "y": {"datum": 674, "type": "quantitative", "scale": {"domain": [446, 705], "nice": false, "zero": false}, "axis": null},
       "text": {"value": "TH1"}}}
  ]
},
{
  "width": 605, "height": 89.7,
  "resolve": {"axis": {"x": "independent", "y": "independent"}},
  "layer": [
    {"mark": {"type": "tick", "orient": "vertical", "size": 14, "thickness": 1, "color": "#0000ff", "opacity": 0.35, "clip": true},
     "encoding": {
       "x": {"field": "t", "type": "quantitative", "scale": {"domain": [-522, 421], "nice": false, "zero": false}, "axis": {"orient": "bottom", "values": [-400, -200, 0, 200, 400], "tickSize": -7, "labels": false, "title": null}},
       "y": {"field": "c", "type": "quantitative", "scale": {"domain": [596, 870], "nice": false, "zero": false}, "axis": {"orient": "left", "values": [600, 700, 800], "tickSize": -7, "labelPadding": 17, "title": "Counts/sec", "titlePadding": 10}}}},
    {"mark": {"type": "line", "color": "#0000ff", "strokeWidth": 0.8, "clip": true},
     "encoding": {
       "x": {"field": "t", "type": "quantitative", "scale": {"domain": [-522, 421], "nice": false, "zero": false}, "axis": {"orient": "bottom", "values": [-500, -300, -100, 100, 300], "tickSize": -3.5, "labels": false, "title": null}},
       "y": {"field": "c", "type": "quantitative", "scale": {"domain": [596, 870], "nice": false, "zero": false}, "axis": {"orient": "left", "values": [620, 640, 660, 680, 720, 740, 760, 780, 820, 840, 860], "tickSize": -3.5, "labels": false, "title": null}}}},
    {"mark": {"type": "line", "strokeOpacity": 0, "clip": true},
     "encoding": {
       "x": {"field": "t", "type": "quantitative", "scale": {"domain": [-522, 421], "nice": false, "zero": false}, "axis": {"orient": "top", "values": [-400, -200, 0, 200, 400], "tickSize": -7, "labels": false, "title": null}},
       "y": {"field": "c", "type": "quantitative", "scale": {"domain": [596, 870], "nice": false, "zero": false}, "axis": {"orient": "right", "values": [600, 700, 800], "tickSize": -7, "labels": false, "title": null}}}},
    {"mark": {"type": "line", "strokeOpacity": 0, "clip": true},
     "encoding": {
       "x": {"field": "t", "type": "quantitative", "scale": {"domain": [-522, 421], "nice": false, "zero": false}, "axis": {"orient": "top", "values": [-500, -300, -100, 100, 300], "tickSize": -3.5, "labels": false, "title": null}},
       "y": {"field": "c", "type": "quantitative", "scale": {"domain": [596, 870], "nice": false, "zero": false}, "axis": {"orient": "right", "values": [620, 640, 660, 680, 720, 740, 760, 780, 820, 840, 860], "tickSize": -3.5, "labels": false, "title": null}}}},
    {"data": {"values": [{}]},
     "mark": {"type": "text", "align": "right", "baseline": "middle", "fontSize": 15.5, "font": "Liberation Sans", "color": "#000000"},
     "encoding": {
       "x": {"datum": 408, "type": "quantitative", "scale": {"domain": [-522, 421], "nice": false, "zero": false}, "axis": null},
       "y": {"datum": 838, "type": "quantitative", "scale": {"domain": [596, 870], "nice": false, "zero": false}, "axis": null},
       "text": {"value": "TH2"}}}
  ]
},
{
  "width": 605, "height": 89.7,
  "resolve": {"axis": {"x": "independent", "y": "independent"}},
  "layer": [
    {"mark": {"type": "tick", "orient": "vertical", "size": 14, "thickness": 1, "color": "#00ffff", "opacity": 0.35, "clip": true},
     "encoding": {
       "x": {"field": "t", "type": "quantitative", "scale": {"domain": [-522, 421], "nice": false, "zero": false}, "axis": {"orient": "bottom", "values": [-400, -200, 0, 200, 400], "tickSize": -7, "labels": false, "title": null}},
       "y": {"field": "d", "type": "quantitative", "scale": {"domain": [920, 1327], "nice": false, "zero": false}, "axis": {"orient": "left", "values": [1000, 1100, 1200, 1300], "tickSize": -7, "labelPadding": 17, "title": null}}}},
    {"mark": {"type": "line", "color": "#00ffff", "strokeWidth": 0.8, "clip": true},
     "encoding": {
       "x": {"field": "t", "type": "quantitative", "scale": {"domain": [-522, 421], "nice": false, "zero": false}, "axis": {"orient": "bottom", "values": [-500, -300, -100, 100, 300], "tickSize": -3.5, "labels": false, "title": null}},
       "y": {"field": "d", "type": "quantitative", "scale": {"domain": [920, 1327], "nice": false, "zero": false}, "axis": {"orient": "left", "values": [920, 940, 960, 980, 1020, 1040, 1060, 1080, 1120, 1140, 1160, 1180, 1220, 1240, 1260, 1280, 1320], "tickSize": -3.5, "labels": false, "title": null}}}},
    {"mark": {"type": "line", "strokeOpacity": 0, "clip": true},
     "encoding": {
       "x": {"field": "t", "type": "quantitative", "scale": {"domain": [-522, 421], "nice": false, "zero": false}, "axis": {"orient": "top", "values": [-400, -200, 0, 200, 400], "tickSize": -7, "labels": false, "title": null}},
       "y": {"field": "d", "type": "quantitative", "scale": {"domain": [920, 1327], "nice": false, "zero": false}, "axis": {"orient": "right", "values": [1000, 1100, 1200, 1300], "tickSize": -7, "labels": false, "title": null}}}},
    {"mark": {"type": "line", "strokeOpacity": 0, "clip": true},
     "encoding": {
       "x": {"field": "t", "type": "quantitative", "scale": {"domain": [-522, 421], "nice": false, "zero": false}, "axis": {"orient": "top", "values": [-500, -300, -100, 100, 300], "tickSize": -3.5, "labels": false, "title": null}},
       "y": {"field": "d", "type": "quantitative", "scale": {"domain": [920, 1327], "nice": false, "zero": false}, "axis": {"orient": "right", "values": [920, 940, 960, 980, 1020, 1040, 1060, 1080, 1120, 1140, 1160, 1180, 1220, 1240, 1260, 1280, 1320], "tickSize": -3.5, "labels": false, "title": null}}}},
    {"data": {"values": [{}]},
     "mark": {"type": "text", "align": "right", "baseline": "middle", "fontSize": 15.5, "font": "Liberation Sans", "color": "#000000"},
     "encoding": {
       "x": {"datum": 408, "type": "quantitative", "scale": {"domain": [-522, 421], "nice": false, "zero": false}, "axis": null},
       "y": {"datum": 1275, "type": "quantitative", "scale": {"domain": [920, 1327], "nice": false, "zero": false}, "axis": null},
       "text": {"value": "TH3"}}}
  ]
},
{
  "width": 605, "height": 89.7,
  "resolve": {"axis": {"x": "independent", "y": "independent"}},
  "layer": [
    {"mark": {"type": "tick", "orient": "vertical", "size": 12, "thickness": 1, "color": "#ff00ff", "opacity": 0.35, "clip": true},
     "encoding": {
       "x": {"field": "t", "type": "quantitative", "scale": {"domain": [-522, 421], "nice": false, "zero": false}, "axis": {"orient": "bottom", "values": [-400, -200, 0, 200, 400], "tickSize": -7, "labelPadding": 14, "title": "Time [sec] 0 = 2012/09/10 10:46:59", "titlePadding": 2}},
       "y": {"field": "e", "type": "quantitative", "scale": {"domain": [2502, 3450], "nice": false, "zero": false}, "axis": {"orient": "left", "values": [2600, 2800, 3000, 3200, 3400], "tickSize": -7, "labelPadding": 17, "title": null}}}},
    {"mark": {"type": "line", "color": "#ff00ff", "strokeWidth": 0.8, "clip": true},
     "encoding": {
       "x": {"field": "t", "type": "quantitative", "scale": {"domain": [-522, 421], "nice": false, "zero": false}, "axis": {"orient": "bottom", "values": [-500, -300, -100, 100, 300], "tickSize": -3.5, "labels": false, "title": null}},
       "y": {"field": "e", "type": "quantitative", "scale": {"domain": [2502, 3450], "nice": false, "zero": false}, "axis": {"orient": "left", "values": [2700, 2900, 3100, 3300], "tickSize": -3.5, "labels": false, "title": null}}}},
    {"mark": {"type": "line", "strokeOpacity": 0, "clip": true},
     "encoding": {
       "x": {"field": "t", "type": "quantitative", "scale": {"domain": [-522, 421], "nice": false, "zero": false}, "axis": {"orient": "top", "values": [-400, -200, 0, 200, 400], "tickSize": -7, "labels": false, "title": null}},
       "y": {"field": "e", "type": "quantitative", "scale": {"domain": [2502, 3450], "nice": false, "zero": false}, "axis": {"orient": "right", "values": [2600, 2800, 3000, 3200, 3400], "tickSize": -7, "labels": false, "title": null}}}},
    {"mark": {"type": "line", "strokeOpacity": 0, "clip": true},
     "encoding": {
       "x": {"field": "t", "type": "quantitative", "scale": {"domain": [-522, 421], "nice": false, "zero": false}, "axis": {"orient": "top", "values": [-500, -300, -100, 100, 300], "tickSize": -3.5, "labels": false, "title": null}},
       "y": {"field": "e", "type": "quantitative", "scale": {"domain": [2502, 3450], "nice": false, "zero": false}, "axis": {"orient": "right", "values": [2700, 2900, 3100, 3300], "tickSize": -3.5, "labels": false, "title": null}}}},
    {"data": {"values": [{}]},
     "mark": {"type": "text", "align": "right", "baseline": "middle", "fontSize": 15.5, "font": "Liberation Sans", "color": "#000000"},
     "encoding": {
       "x": {"datum": 414, "type": "quantitative", "scale": {"domain": [-522, 421], "nice": false, "zero": false}, "axis": null},
       "y": {"datum": 3345, "type": "quantitative", "scale": {"domain": [2502, 3450], "nice": false, "zero": false}, "axis": null},
       "text": {"value": "TH0123"}}}
  ]
}
]
}
